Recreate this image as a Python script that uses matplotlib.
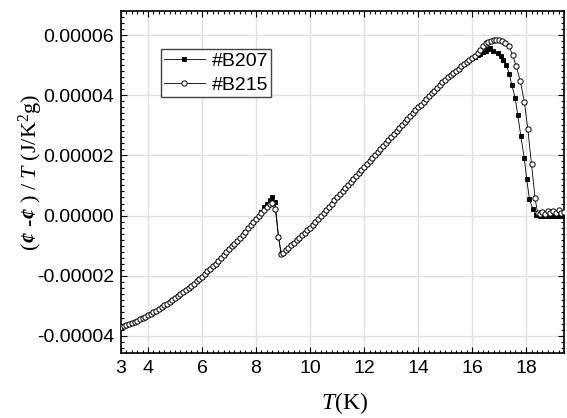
import numpy as np
import matplotlib as mpl
mpl.use("Agg")
import matplotlib.pyplot as plt
from matplotlib.ticker import MultipleLocator, FormatStrFormatter

mpl.rcParams.update({
    "font.family": "Liberation Sans",
    "mathtext.fontset": "custom",
    "mathtext.rm": "Liberation Serif",
    "mathtext.it": "Liberation Serif:italic",
    "mathtext.bf": "Liberation Serif:bold:italic",
})

# ------------ data (values in units of 1e-5 J/K^2 g) ------------
# shared low-T part (both samples lie on top of each other)
T_LOW = [3.0, 3.1, 3.2, 3.3, 3.4, 3.5, 3.6, 3.7, 3.8, 3.9,
         4.0, 4.1, 4.2, 4.3, 4.4, 4.5, 4.6, 4.7, 4.8, 4.9,
         5.0, 5.1, 5.2, 5.3, 5.4, 5.5, 5.6, 5.7, 5.8, 5.9,
         6.0, 6.1, 6.2, 6.3, 6.4, 6.5, 6.6, 6.7, 6.8, 6.9,
         7.0, 7.1, 7.2, 7.3, 7.4, 7.5, 7.6, 7.7, 7.8, 7.9, 8.0]
Y_LOW = [-3.72, -3.68, -3.64, -3.61, -3.57, -3.53, -3.49, -3.45, -3.41, -3.37,
         -3.32, -3.27, -3.22, -3.16, -3.11, -3.05, -2.99, -2.93, -2.86, -2.80,
         -2.73, -2.67, -2.60, -2.54, -2.47, -2.40, -2.33, -2.26, -2.19, -2.11,
         -2.04, -1.95, -1.86, -1.78, -1.69, -1.60, -1.51, -1.41, -1.31, -1.22,
         -1.12, -1.02, -0.93, -0.83, -0.74, -0.64, -0.54, -0.43, -0.33, -0.22, -0.12]

# small anomaly near 8.5 K
T_PEAK_B207 = [8.1, 8.2, 8.3, 8.4, 8.5, 8.58, 8.71, 8.83, 8.93]
Y_PEAK_B207 = [0.00, 0.12, 0.27, 0.38, 0.50, 0.61, 0.44, -0.70, -1.28]
T_PEAK_B215 = [8.1, 8.2, 8.3, 8.4, 8.5, 8.58, 8.71, 8.83, 8.93]
Y_PEAK_B215 = [-0.02, 0.08, 0.18, 0.28, 0.38, 0.43, 0.22, -0.70, -1.28]

# shared middle part
T_MID = [9.0, 9.1, 9.2, 9.3, 9.4, 9.5, 9.6, 9.7, 9.8, 9.9,
         10.0, 10.1, 10.2, 10.3, 10.4, 10.5, 10.6, 10.7, 10.8, 10.9,
         11.0, 11.1, 11.2, 11.3, 11.4, 11.5, 11.6, 11.7, 11.8, 11.9,
         12.0, 12.1, 12.2, 12.3, 12.4, 12.5, 12.6, 12.7, 12.8, 12.9,
         13.0, 13.1, 13.2, 13.3, 13.4, 13.5, 13.6, 13.7, 13.8, 13.9,
         14.0, 14.1, 14.2, 14.3, 14.4, 14.5, 14.6, 14.7, 14.8, 14.9,
         15.0, 15.1, 15.2, 15.3, 15.4, 15.5, 15.6, 15.7, 15.8, 15.9, 16.0]
Y_MID = [-1.25, -1.16, -1.08, -0.99, -0.91, -0.82, -0.74, -0.65, -0.57, -0.48,
         -0.40, -0.30, -0.20, -0.10, 0.00, 0.10, 0.20, 0.30, 0.40, 0.50,
         0.60, 0.70, 0.80, 0.90, 1.00, 1.10, 1.20, 1.30, 1.40, 1.50,
         1.60, 1.70, 1.80, 1.90, 2.00, 2.10, 2.20, 2.30, 2.40, 2.50,
         2.60, 2.70, 2.80, 2.90, 3.00, 3.10, 3.20, 3.30, 3.40, 3.50,
         3.60, 3.69, 3.79, 3.88, 3.97, 4.06, 4.15, 4.25, 4.34, 4.43,
         4.51, 4.59, 4.66, 4.74, 4.81, 4.88, 4.96, 5.03, 5.10, 5.17, 5.24]

# hump and drop at high T
T_HIGH_B207 = [16.1, 16.2, 16.3, 16.4, 16.5, 16.6, 16.67, 16.79, 16.94, 17.07,
               17.16, 17.26, 17.37, 17.47, 17.59, 17.69, 17.8, 17.93, 18.02, 18.12,
               18.25, 18.37, 18.5, 18.6, 18.7, 18.8, 18.9, 19.0, 19.1, 19.2, 19.3, 19.4]
Y_HIGH_B207 = [5.28, 5.33, 5.38, 5.43, 5.48, 5.53, 5.57, 5.46, 5.41, 5.32,
               5.18, 5.02, 4.72, 4.33, 3.92, 3.33, 2.65, 1.90, 1.20, 0.55,
               0.21, 0.02, -0.02, -0.03, -0.02, -0.02, -0.03, -0.02, -0.02, -0.01, -0.02, -0.02]
T_HIGH_B215 = [16.1, 16.2, 16.3, 16.4, 16.5, 16.6, 16.7, 16.8, 16.9, 17.0,
               17.1, 17.2, 17.35, 17.5, 17.63, 17.78, 17.93, 18.06, 18.2, 18.33,
               18.42, 18.5, 18.6, 18.7, 18.8, 18.9, 19.0, 19.1, 19.2, 19.3, 19.4]
Y_HIGH_B215 = [5.32, 5.41, 5.51, 5.62, 5.72, 5.77, 5.81, 5.84, 5.85, 5.84,
               5.80, 5.74, 5.63, 5.35, 4.96, 4.48, 3.79, 2.88, 1.70, 0.57,
               0.09, 0.05, 0.12, 0.06, 0.14, 0.08, 0.16, 0.10, 0.20, 0.09, 0.12]

LABELS = ["#B207", "#B215"]
X_TICKS = [3, 4, 6, 8, 10, 12, 14, 16, 18]
Y_TICKS = [-0.00004, -0.00002, 0.0, 0.00002, 0.00004, 0.00006]


def series(t_peak, y_peak, t_high, y_high):
    t = np.array(T_LOW + t_peak + T_MID + t_high)
    y = np.array(Y_LOW + y_peak + Y_MID + y_high) * 1e-5
    return t, y


def main():
    t207, y207 = series(T_PEAK_B207, Y_PEAK_B207, T_HIGH_B207, Y_HIGH_B207)
    t215, y215 = series(T_PEAK_B215, Y_PEAK_B215, T_HIGH_B215, Y_HIGH_B215)

    fig = plt.figure(figsize=(5.67, 4.18), dpi=100)
    ax = fig.add_axes([121 / 567, 1 - 353 / 418, 443 / 567, 342 / 418])

    ax.plot(t207, y207, color="black", lw=0.6, marker="s", ms=3.2,
            mfc="black", mec="black", mew=0.6, label=LABELS[0], zorder=3)
    ax.plot(t215, y215, color="black", lw=0.6, marker="o", ms=3.8,
            mfc="white", mec="black", mew=0.7, label=LABELS[1], zorder=4)

    ax.set_xlim(3, 19.4)
    ax.set_ylim(-0.0000457, 0.000068)
    ax.set_xticks(X_TICKS)
    ax.set_yticks(Y_TICKS)
    ax.xaxis.set_minor_locator(MultipleLocator(0.2))
    ax.yaxis.set_minor_locator(MultipleLocator(0.000002))
    ax.yaxis.set_major_formatter(FormatStrFormatter("%.5f"))

    ax.grid(True, which="major", color="#e0e0e0", lw=1.0, zorder=0)
    ax.set_axisbelow(True)
    ax.tick_params(which="both", direction="in", top=True, right=True,
                   labelsize=14, pad=5, width=0.8)
    ax.tick_params(which="major", length=4)
    ax.tick_params(which="minor", length=2.2)
    for sp in ax.spines.values():
        sp.set_linewidth(1.2)

    fig.text(344 / 567, 1 - 409 / 418, r"$\mathit{T}$(K)", fontsize=17,
             ha="center", va="baseline", family="Liberation Serif")
    fig.text(31 / 567, 1 - 172 / 418,
             r"($\mathbf{¢}$ -$\mathbf{¢}$ ) / $\mathit{T}$ (J/K$^{2}$g)",
             fontsize=16, rotation=90, ha="center", va="center",
             family="Liberation Serif")

    leg = ax.legend(loc="upper left", bbox_to_anchor=(40 / 443, 1 - 38 / 342),
                    fontsize=14, frameon=True, fancybox=False, framealpha=1,
                    edgecolor="#444444", borderpad=0.15, borderaxespad=0,
                    handlelength=2.1, handletextpad=0.35, labelspacing=0.35)
    leg.get_frame().set_linewidth(1.0)

    fig.savefig("out.png", dpi=100)
    plt.close(fig)


if __name__ == "__main__":
    main()
